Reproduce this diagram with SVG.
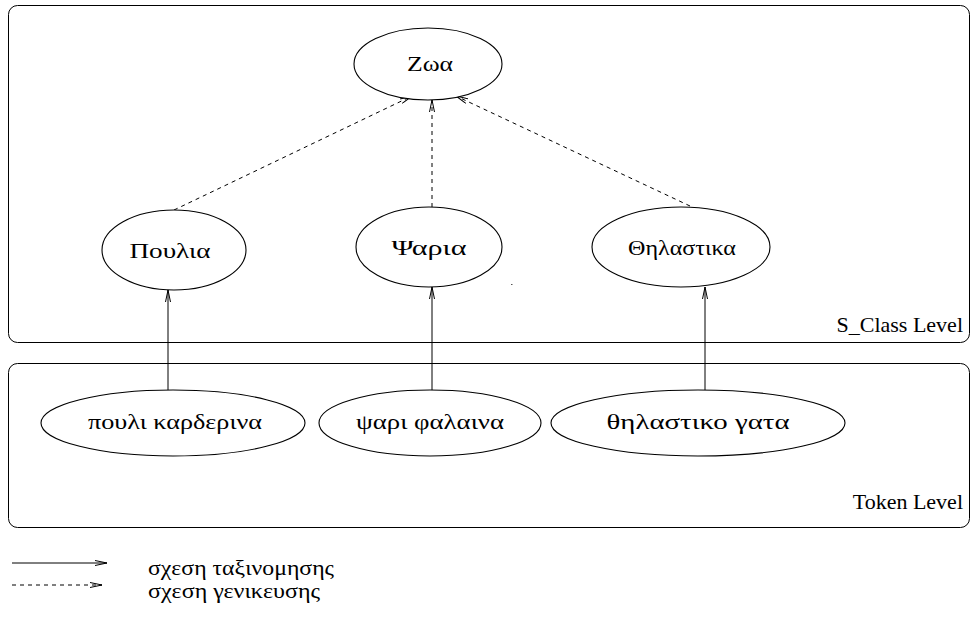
<svg xmlns="http://www.w3.org/2000/svg" width="972" height="619" viewBox="0 0 972 619">
<defs>
<marker id="ah" viewBox="0 0 12 6" refX="12" refY="3" markerWidth="12" markerHeight="6" markerUnits="userSpaceOnUse" orient="auto">
<polyline points="0,0.5 12,3 0,5.5" fill="none" stroke="#000" stroke-width="1"/>
</marker>
</defs>
<style>
.box{fill:none;stroke:#000;stroke-width:1}
.nd{fill:#fff;stroke:#000;stroke-width:1.1}
.t{font-family:"Liberation Serif","Times New Roman",serif;font-size:22px;fill:#000}
.g{font-family:"Liberation Serif","DejaVu Serif",serif;font-size:21px;fill:#000}
.c{text-anchor:middle}
.sol{stroke:#000;stroke-width:1;fill:none;marker-end:url(#ah)}
.dsh{stroke:#000;stroke-width:1;fill:none;stroke-dasharray:4,4;marker-end:url(#ah)}
</style>
<rect width="972" height="619" fill="#fff"/>
<g id="s_class_level">
<rect class="box" x="8.5" y="5.5" width="961" height="337" rx="9"/>
<text class="t" x="963" y="332" text-anchor="end">S_Class Level</text>
</g>
<g id="token_level">
<rect class="box" x="8.5" y="363.5" width="961" height="164" rx="9"/>
<text class="t" x="963" y="509" text-anchor="end">Token Level</text>
</g>
<g id="connectors">
<line class="dsh" x1="174" y1="210" x2="412" y2="96"/>
<line class="dsh" x1="432" y1="207" x2="432" y2="100"/>
<line class="dsh" x1="690" y1="206" x2="456" y2="96"/>
<line class="sol" x1="168" y1="390" x2="168" y2="290"/>
<line class="sol" x1="432" y1="390" x2="432" y2="287"/>
<line class="sol" x1="705" y1="390" x2="705" y2="287"/>
</g>
<g id="zoa">
<ellipse class="nd" cx="428" cy="64" rx="74" ry="36"/>
<text class="g c" x="430" y="71" textLength="46" lengthAdjust="spacingAndGlyphs">Ζωα</text>
</g>
<g id="poulia">
<ellipse class="nd" cx="174" cy="250" rx="72" ry="40"/>
<text class="g c" x="170" y="258" textLength="81" lengthAdjust="spacingAndGlyphs">Πουλια</text>
</g>
<g id="psaria">
<ellipse class="nd" cx="429" cy="247" rx="73" ry="40"/>
<text class="g c" x="429" y="255" textLength="75" lengthAdjust="spacingAndGlyphs">Ψαρια</text>
</g>
<g id="thilastika">
<ellipse class="nd" cx="681" cy="247" rx="89" ry="40"/>
<text class="g c" x="682" y="255" textLength="108" lengthAdjust="spacingAndGlyphs">Θηλαστικα</text>
</g>
<g id="pouli_karderina">
<ellipse class="nd" cx="173" cy="423" rx="132" ry="33"/>
<text class="g c" x="175" y="429" textLength="174" lengthAdjust="spacingAndGlyphs">πουλι καρδερινα</text>
</g>
<g id="psari_falaina">
<ellipse class="nd" cx="430" cy="423" rx="111" ry="33"/>
<text class="g c" x="430" y="429" textLength="148" lengthAdjust="spacingAndGlyphs">ψαρι φαλαινα</text>
</g>
<g id="thilastiko_gata">
<ellipse class="nd" cx="698" cy="423" rx="147" ry="33"/>
<text class="g c" x="698" y="429" textLength="183" lengthAdjust="spacingAndGlyphs">θηλαστικο γατα</text>
</g>
<rect x="511" y="284" width="1.5" height="1" fill="#555"/>
<g id="legend">
<line class="sol" x1="12" y1="563" x2="107" y2="563"/>
<line class="dsh" x1="12" y1="585" x2="102" y2="585"/>
<text class="g" x="148" y="575" textLength="186" lengthAdjust="spacingAndGlyphs">σχεση ταξινομησης</text>
<text class="g" x="148" y="598" textLength="172" lengthAdjust="spacingAndGlyphs">σχεση γενικευσης</text>
</g>
</svg>
